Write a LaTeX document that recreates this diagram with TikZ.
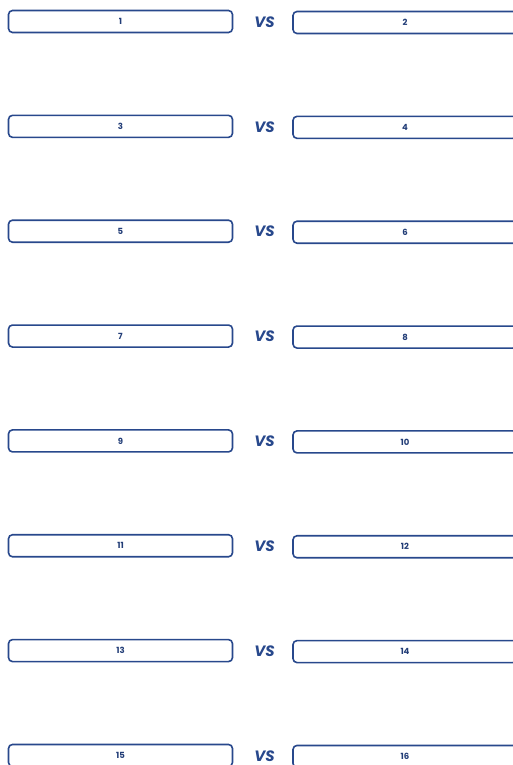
\documentclass[tikz,border=0pt]{standalone}
\usepackage{fontspec}
\setmainfont{Poppins}
\definecolor{vsblue}{RGB}{40,72,140}
\tikzset{
  slot/.style={draw=vsblue, line width=1.6pt, rounded corners=4pt, minimum width=224pt, minimum height=22pt, inner sep=0pt, font=\fontsize{8.5}{8.5}\selectfont\bfseries, text=vsblue!85!black},
  vslabel/.style={text=vsblue, font=\fontsize{15}{15}\selectfont\bfseries\itshape}
}
\begin{document}
\begin{tikzpicture}[x=1pt, y=-1pt]
            \useasboundingbox (0, 0) rectangle (512, 765);

            \foreach \r in {0,...,7} {
                \pgfmathtruncatemacro{\home}{2*\r+1}
                \pgfmathtruncatemacro{\away}{2*\r+2}
                \node[slot] (home\r) at (120.5, {21.5 + 104.85*\r}) {\home};
                \node[vslabel] (vs\r) at (264.5, {22 + 104.85*\r}) {VS};
                \node[slot] (away\r) at (405, {22.5 + 104.85*\r}) {\away};
            }
        \end{tikzpicture}
\end{document}
